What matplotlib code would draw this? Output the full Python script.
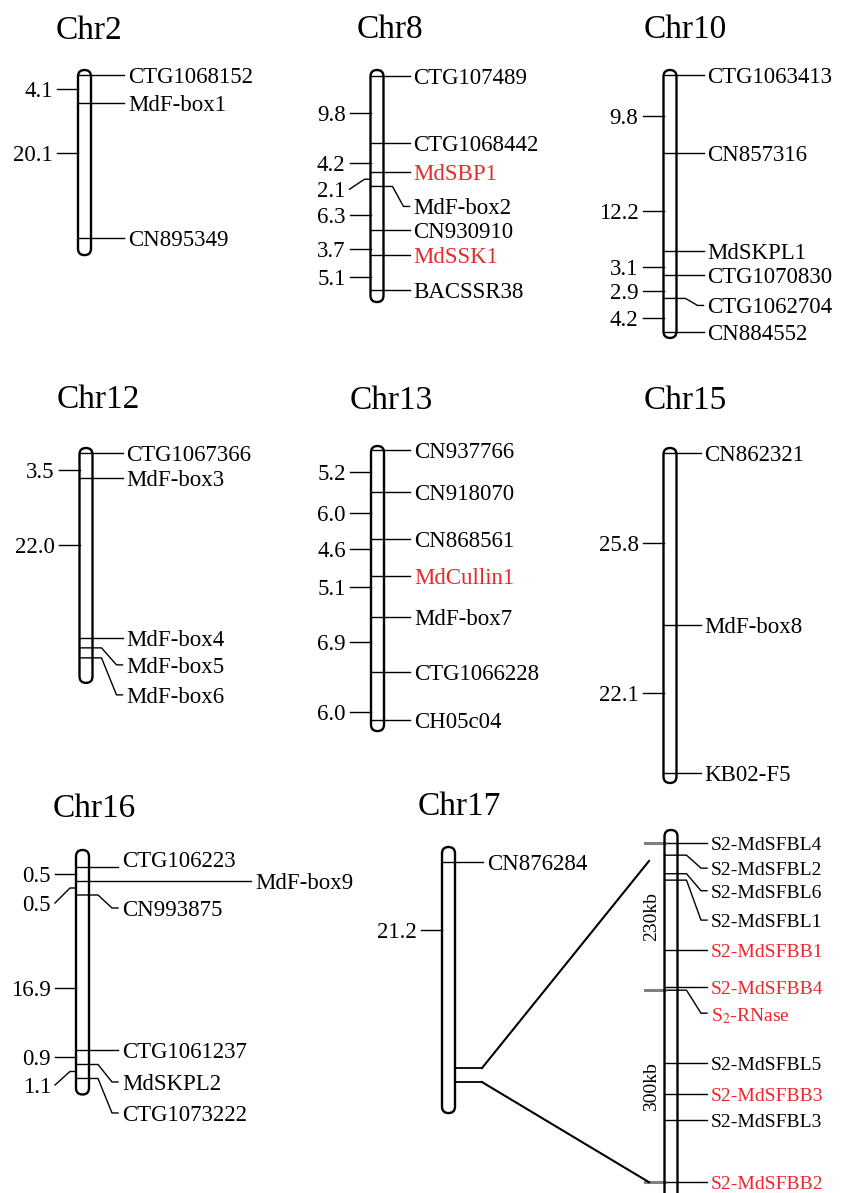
import matplotlib
matplotlib.use('Agg')
import matplotlib.pyplot as plt
from matplotlib.patches import FancyBboxPatch

plt.rcParams['font.family'] = ['Liberation Serif', 'DejaVu Serif']
plt.rcParams['mathtext.fontset'] = 'stix'

RED = '#e8282b'
BAR_W = 13

# ---------------- data (cM between neighbouring markers) ----------------
chr2_markers = ['CTG1068152', 'MdF-box1', 'CN895349']
chr2_gaps = [4.1, 20.1]

chr8_markers = ['CTG107489', 'CTG1068442', 'MdSBP1', 'MdF-box2', 'CN930910', 'MdSSK1', 'BACSSR38']
chr8_gaps = [9.8, 4.2, 2.1, 6.3, 3.7, 5.1]
chr8_red = ['MdSBP1', 'MdSSK1']

chr10_markers = ['CTG1063413', 'CN857316', 'MdSKPL1', 'CTG1070830', 'CTG1062704', 'CN884552']
chr10_gaps = [9.8, 12.2, 3.1, 2.9, 4.2]

chr12_markers = ['CTG1067366', 'MdF-box3', 'MdF-box4', 'MdF-box5', 'MdF-box6']
chr12_gaps = [3.5, 22.0, 0.0, 0.0]

chr13_markers = ['CN937766', 'CN918070', 'CN868561', 'MdCullin1', 'MdF-box7', 'CTG1066228', 'CH05c04']
chr13_gaps = [5.2, 6.0, 4.6, 5.1, 6.9, 6.0]
chr13_red = ['MdCullin1']

chr15_markers = ['CN862321', 'MdF-box8', 'KB02-F5']
chr15_gaps = [25.8, 22.1]

chr16_markers = ['CTG106223', 'MdF-box9', 'CN993875', 'CTG1061237', 'MdSKPL2', 'CTG1073222']
chr16_gaps = [0.5, 0.5, 16.9, 0.9, 1.1]

chr17_markers = ['CN876284', 'S-locus']
chr17_gaps = [21.2]

# S-locus zoom (kb from S2-MdSFBL4)
s_markers = ['S2-MdSFBL4', 'S2-MdSFBL2', 'S2-MdSFBL6', 'S2-MdSFBL1', 'S2-MdSFBB1', 'S2-MdSFBB4',
             r'S$_2$-RNase', 'S2-MdSFBL5', 'S2-MdSFBB3', 'S2-MdSFBL3', 'S2-MdSFBB2']
s_kb = [0, 19, 48, 58, 167, 225, 230, 344, 392, 433, 530]
s_red = ['S2-MdSFBB1', 'S2-MdSFBB4', r'S$_2$-RNase', 'S2-MdSFBB3', 'S2-MdSFBB2']
s_bounds_kb = [0, 230, 530]
s_span_labels = ['230kb', '300kb']

# ---------------- layout ----------------
layouts = {
    'Chr2': dict(cx=84.5, y0=75, scale=6.74, pad=(5, 17), dx=37, title=(89, 39),
                 int_dy=[0, -17]),
    'Chr8': dict(cx=377, y0=76, scale=6.86, pad=(6, 12), dx=30, title=(390, 38),
                 int_dy=[3, 5, 10, 7, 7, 4], lab_dy=[0, 0, 0, 20, 0, 0, 0]),
    'Chr10': dict(cx=670, y0=75, scale=7.98, pad=(5, 6), dx=31, title=(685, 38),
                  int_dy=[2, 9, 4, 4, 3], lab_dy=[0, 0, 0, 0, 7, 0]),
    'Chr12': dict(cx=86, y0=453, scale=7.25, min_gap=10, pad=(5, 25), dx=34, title=(98, 408),
                  int_dy=[4, -13, 0, 0], lab_dy=[0, 0, 0, 17, 37]),
    'Chr13': dict(cx=377.5, y0=450, scale=7.99, pad=(4, 11), dx=30, title=(391, 409),
                  int_dy=[1, -3, -9, -10, -3, 16]),
    'Chr15': dict(cx=670, y0=453, scale=6.68, pad=(5, 10), dx=28, title=(685, 409),
                  int_dy=[4, -6]),
    'Chr16': dict(cx=82.5, y0=867, scale=9.2, min_gap=14, pad=(17, 16), dx=33, title=(94, 817),
                  int_dy=[0, 15, 15, 0, 13.5], lab_dy=[0, 0, 13, 0, 17.5, 34.5],
                  raise_={0: -8}, long={1: 255}),
    'Chr17': dict(cx=448.5, y0=862, scale=9.72, pad=(15, 45), dx=32, title=(459, 815),
                  int_dy=[-35], locus=1),
}

fig = plt.figure(figsize=(8.43, 11.93), dpi=100)
ax = fig.add_axes([0, 0, 1, 1])
ax.set_xlim(0, 843)
ax.set_ylim(1193, 0)
ax.axis('off')

LW_BAR = 1.7
LW_MK = 1.0
FS = 16.5
TXT_OFF = 2.5   # va='center' sits a bit high for this font


def bar(cx, top, bot):
    hw = BAR_W / 2
    for fc, ec, z in [('white', 'none', 1), ('none', 'black', 3)]:
        ax.add_patch(FancyBboxPatch((cx - hw, top), BAR_W, bot - top,
                                    boxstyle=f'round,pad=0,rounding_size={hw}',
                                    fc=fc, ec=ec, lw=LW_BAR, zorder=z))


def marker_line(left, right, tx, y, dy):
    if dy:
        ax.plot([left, right + 9, tx - 10, tx - 4], [y, y, y + dy, y + dy], color='black', lw=LW_MK, zorder=2)
    else:
        ax.plot([left, tx - 4], [y, y], color='black', lw=LW_MK, zorder=2)


def draw_chrom(name, markers, gaps, red, lay):
    cx = lay['cx']
    left, right = cx - BAR_W / 2, cx + BAR_W / 2
    ys = [lay['y0']]
    for g in gaps:
        ys.append(ys[-1] + max(g * lay['scale'], lay.get('min_gap', 0)))
    bar(cx, ys[0] - lay['pad'][0], ys[-1] + lay['pad'][1])
    ax.text(lay['title'][0], lay['title'][1], name, fontsize=24, ha='center', va='baseline')

    lab_dy = lay.get('lab_dy', [0] * len(markers))
    for i, (m, y) in enumerate(zip(markers, ys)):
        if lay.get('locus') == i:
            continue
        tx = lay.get('long', {}).get(i, right + lay['dx'])
        dy = lab_dy[i]
        marker_line(left, right, tx, y, dy)
        ty = y + dy + lay.get('raise_', {}).get(i, 0) + TXT_OFF
        ax.text(tx, ty, m, fontsize=FS, ha='left', va='center',
                color=RED if m in red else 'black', zorder=4)

    for i, g in enumerate(gaps):
        if g <= 0:
            continue
        mid = (ys[i] + ys[i + 1]) / 2
        ly = mid + lay['int_dy'][i]
        tl = left - 21
        if ys[i] <= ly <= ys[i + 1]:
            ax.plot([tl, left], [ly, ly], color='black', lw=LW_MK, zorder=2)
        else:
            ax.plot([tl, left - 6, left], [ly, mid, mid], color='black', lw=LW_MK, zorder=2)
        ax.text(left - 25, ly + TXT_OFF, f'{g:.1f}', fontsize=FS, ha='right', va='center')
    return ys


draw_chrom('Chr2', chr2_markers, chr2_gaps, [], layouts['Chr2'])
draw_chrom('Chr8', chr8_markers, chr8_gaps, chr8_red, layouts['Chr8'])
draw_chrom('Chr10', chr10_markers, chr10_gaps, [], layouts['Chr10'])
draw_chrom('Chr12', chr12_markers, chr12_gaps, [], layouts['Chr12'])
draw_chrom('Chr13', chr13_markers, chr13_gaps, chr13_red, layouts['Chr13'])
draw_chrom('Chr15', chr15_markers, chr15_gaps, [], layouts['Chr15'])
draw_chrom('Chr16', chr16_markers, chr16_gaps, [], layouts['Chr16'])
ys17 = draw_chrom('Chr17', chr17_markers, chr17_gaps, [], layouts['Chr17'])

# ---- S-locus expanded view ----
s_cx, s_y0, s_scale = 671, 843, 0.64
s_dy = [0, 13, 17, 40, 0, 0, 23, 0, 0, 0, 0]
s_left, s_right = s_cx - BAR_W / 2, s_cx + BAR_W / 2
s_ys = [s_y0 + k * s_scale for k in s_kb]
bar(s_cx, s_ys[0] - 13, 1230)
s_tx = 711
for m, y, dy in zip(s_markers, s_ys, s_dy):
    marker_line(s_left, s_right, s_tx, y, dy)
    ax.text(s_tx, y + dy + TXT_OFF, m, fontsize=14, ha='left', va='center',
            color=RED if m in s_red else 'black', zorder=4)
for k in s_bounds_kb:
    y = s_y0 + k * s_scale
    ax.plot([645, s_left], [y, y], color='#7f7f7f', lw=2.2, zorder=2)
for (a, b), lab in zip(zip(s_bounds_kb[:-1], s_bounds_kb[1:]), s_span_labels):
    ym = s_y0 + (a + b) / 2 * s_scale
    ax.text(652, ym, lab, fontsize=14, rotation=90, ha='center', va='center')

# connection from the Chr17 S-locus to the expanded view
lay17 = layouts['Chr17']
r17 = lay17['cx'] + BAR_W / 2
sy = ys17[lay17['locus']]
for y in (sy, sy + 14):
    ax.plot([r17, 482], [y, y], color='black', lw=LW_MK + 0.3, zorder=2)
ax.plot([482, 649], [sy, s_ys[0] + 18], color='black', lw=1.5)
ax.plot([482, 649], [sy + 14, s_ys[-1]], color='black', lw=1.5)

fig.savefig('out.png', dpi=100)
